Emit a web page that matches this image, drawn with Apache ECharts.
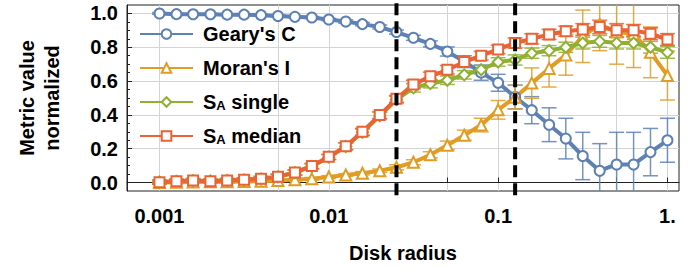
<!DOCTYPE html>
<html>
<head>
<meta charset="utf-8">
<script src="https://cdn.jsdelivr.net/npm/echarts@6/dist/echarts.min.js"></script>
<style>
  html, body { margin: 0; padding: 0; background: #fff; }
  #chart { width: 696px; height: 268px; }
</style>
</head>
<body>
<div id="chart"></div>
<script>
// disk radii (10 per decade, 0.001 .. 1)
var radius = [0.001, 0.00126, 0.00158, 0.002, 0.00251, 0.00316, 0.00398, 0.00501, 0.00631, 0.00794,
  0.01, 0.0126, 0.0158, 0.02, 0.0251, 0.0316, 0.0398, 0.0501, 0.0631, 0.0794,
  0.1, 0.126, 0.158, 0.2, 0.251, 0.316, 0.398, 0.501, 0.631, 0.794, 1];

var geary = [1.0, 0.996, 0.995, 0.995, 0.993, 0.993, 0.99, 0.985, 0.98, 0.976,
  0.964, 0.952, 0.937, 0.92, 0.89, 0.856, 0.82, 0.775, 0.715, 0.65,
  0.59, 0.506, 0.428, 0.342, 0.26, 0.157, 0.07, 0.107, 0.107, 0.18, 0.25];
var gearyErr = [0.005, 0.005, 0.005, 0.005, 0.005, 0.005, 0.005, 0.005, 0.005, 0.006,
  0.007, 0.01, 0.01, 0.012, 0.012, 0.015, 0.018, 0.027, 0.035, 0.045,
  0.05, 0.07, 0.08, 0.1, 0.12, 0.14, 0.16, 0.19, 0.19, 0.14, 0.13];

var moran = [0.0, 0.002, 0.003, 0.004, 0.005, 0.006, 0.008, 0.012, 0.016, 0.022,
  0.033, 0.045, 0.055, 0.07, 0.09, 0.12, 0.164, 0.22, 0.28, 0.34,
  0.43, 0.505, 0.588, 0.675, 0.755, 0.865, 0.935, 0.89, 0.88, 0.77, 0.633];
var moranErr = [0.005, 0.005, 0.005, 0.005, 0.005, 0.005, 0.005, 0.005, 0.006, 0.008,
  0.008, 0.008, 0.01, 0.01, 0.015, 0.015, 0.018, 0.025, 0.03, 0.04,
  0.055, 0.07, 0.09, 0.11, 0.12, 0.155, 0.155, 0.19, 0.2, 0.15, 0.145];

var saSingle = [0.003, 0.007, 0.011, 0.009, 0.012, 0.016, 0.021, 0.034, 0.058, 0.095,
  0.15, 0.213, 0.297, 0.395, 0.49, 0.56, 0.585, 0.605, 0.637, 0.667,
  0.713, 0.725, 0.765, 0.78, 0.8, 0.825, 0.835, 0.825, 0.825, 0.8, 0.77];
var saSingleErr = [0.012, 0.012, 0.012, 0.012, 0.012, 0.012, 0.015, 0.015, 0.015, 0.015,
  0.015, 0.02, 0.02, 0.02, 0.02, 0.025, 0.025, 0.025, 0.025, 0.025,
  0.025, 0.03, 0.03, 0.03, 0.03, 0.035, 0.035, 0.035, 0.035, 0.035, 0.035];

var saMedian = [0.002, 0.008, 0.012, 0.008, 0.012, 0.017, 0.022, 0.035, 0.06, 0.098,
  0.152, 0.215, 0.3, 0.4, 0.495, 0.58, 0.628, 0.667, 0.713, 0.75,
  0.787, 0.825, 0.85, 0.876, 0.895, 0.905, 0.92, 0.9, 0.9, 0.88, 0.846];
var saMedianErr = [0.012, 0.012, 0.012, 0.012, 0.012, 0.012, 0.015, 0.015, 0.015, 0.015,
  0.015, 0.02, 0.02, 0.02, 0.02, 0.025, 0.025, 0.025, 0.025, 0.025,
  0.025, 0.03, 0.03, 0.03, 0.03, 0.035, 0.04, 0.04, 0.035, 0.035, 0.035];

var xTicks = [0.001, 0.005, 0.01, 0.05, 0.1, 0.5, 1];
var xLabels = [0.001, 0.01, 0.1, 1];
var yLabels = [0, 0.2, 0.4, 0.6, 0.8, 1.0];
var yMinorTicks = [0, 0.05, 0.1, 0.15, 0.2, 0.25, 0.3, 0.35, 0.4, 0.45, 0.5,
  0.55, 0.6, 0.65, 0.7, 0.75, 0.8, 0.85, 0.9, 0.95, 1.0];
// the two dashed cut-off radii
var cutoffs = [0.0251, 0.126];

var FONT = '"Liberation Sans", Arial, sans-serif';
var colors = ['#5E81B5', '#E19C24', '#8FB032', '#EB6235'];
var names = ["Geary's C", "Moran's I", 'SA single', 'SA median'];

function errorSeries(name, values, errs, color) {
  return {
    name: name + ' err',
    type: 'custom',
    clip: true,
    z: 1,
    silent: true,
    data: radius.map(function (r, i) { return [r, values[i] - errs[i], values[i] + errs[i]]; }),
    renderItem: function (params, api) {
      var lo = api.coord([api.value(0), api.value(1)]);
      var hi = api.coord([api.value(0), api.value(2)]);
      var w = 7.5;
      var st = { stroke: color, lineWidth: 1.5, opacity: 0.85 };
      return {
        type: 'group',
        children: [
          { type: 'line', shape: { x1: lo[0], y1: lo[1], x2: hi[0], y2: hi[1] }, style: st },
          { type: 'line', shape: { x1: lo[0] - w, y1: lo[1], x2: lo[0] + w, y2: lo[1] }, style: st },
          { type: 'line', shape: { x1: hi[0] - w, y1: hi[1], x2: hi[0] + w, y2: hi[1] }, style: st }
        ]
      };
    }
  };
}

function lineSeries(name, values, color, symbol, size) {
  return {
    name: name,
    type: 'line',
    data: radius.map(function (r, i) { return [r, values[i]]; }),
    symbol: symbol,
    symbolSize: size,
    showAllSymbol: true,
    z: 2,
    lineStyle: { color: color, width: 4 },
    itemStyle: { color: color, borderColor: color, borderWidth: 2 }
  };
}

function cutoffSeries(c) {
  return {
    name: 'cutoff ' + c,
    type: 'line',
    data: [[c, -0.075], [c, 1.08]],
    symbol: 'none',
    clip: false,
    silent: true,
    z: 5,
    lineStyle: { color: '#000', width: 4, type: [12, 6] }
  };
}

var myChart = echarts.init(document.getElementById('chart'), null, { renderer: 'svg' });

myChart.setOption({
  animation: false,
  color: colors,
  grid: { left: 127, right: 17, top: 5, bottom: 77, show: true, borderColor: '#222', borderWidth: 1 },
  legend: {
    data: names,
    orient: 'vertical',
    left: 139,
    top: 24,
    padding: 0,
    itemWidth: 53,
    itemHeight: 12,
    itemGap: 14,
    formatter: function (name) {
      if (name === 'SA single') return '{m|S}{s|A}{m| single}';
      if (name === 'SA median') return '{m|S}{s|A}{m| median}';
      return '{m|' + name + '}';
    },
    textStyle: {
      color: '#000',
      padding: [0, 0, 0, 5],
      rich: {
        m: { fontFamily: FONT, fontSize: 20, fontWeight: 'bold', color: '#000', lineHeight: 20 },
        s: { fontFamily: FONT, fontSize: 13, fontWeight: 'bold', color: '#000', lineHeight: 11, verticalAlign: 'bottom' }
      }
    }
  },
  xAxis: {
    type: 'log',
    logBase: 10,
    min: 0.000643,
    max: 1.17,
    axisLine: { show: true, lineStyle: { color: '#222', width: 1 } },
    axisTick: { inside: true, length: 5, customValues: xTicks, lineStyle: { color: '#222' } },
    axisLabel: {
      customValues: xLabels,
      margin: 15,
      fontFamily: FONT,
      fontSize: 20,
      fontWeight: 'bold',
      color: '#000',
      formatter: function (v) { return v >= 0.999 ? '1.' : String(v); }
    },
    splitLine: { show: true, lineStyle: { color: '#d4d4d4', width: 1 } },
    minorTick: { show: false }
  },
  yAxis: [{
    type: 'value',
    min: -0.05,
    max: 1.05,
    axisLine: { show: true, lineStyle: { color: '#222', width: 1 } },
    axisTick: { inside: true, length: 5, customValues: yLabels, lineStyle: { color: '#222' } },
    axisLabel: {
      customValues: yLabels,
      margin: 9,
      fontFamily: FONT,
      fontSize: 20,
      fontWeight: 'bold',
      color: '#000',
      formatter: function (v) { return v.toFixed(1); }
    },
    splitLine: { show: true, lineStyle: { color: '#d4d4d4', width: 1 } }
  }, {
    type: 'value',
    min: -0.05,
    max: 1.05,
    position: 'left',
    axisLine: { show: false },
    axisTick: { inside: true, length: 3, customValues: yMinorTicks, lineStyle: { color: '#222' } },
    axisLabel: { show: false },
    splitLine: { show: false }
  }],
  graphic: [
    { type: 'text', x: 27, y: 98, rotation: Math.PI / 2,
      style: { text: 'Metric value', font: 'bold 20px ' + FONT, fill: '#000', textAlign: 'center', textVerticalAlign: 'middle' } },
    { type: 'text', x: 52, y: 98, rotation: Math.PI / 2,
      style: { text: 'normalized', font: 'bold 20px ' + FONT, fill: '#000', textAlign: 'center', textVerticalAlign: 'middle' } },
    { type: 'text', x: 403, y: 253,
      style: { text: 'Disk radius', font: 'bold 20px ' + FONT, fill: '#000', textAlign: 'center', textVerticalAlign: 'middle' } }
  ],
  series: [
    errorSeries(names[0], geary, gearyErr, colors[0]),
    errorSeries(names[1], moran, moranErr, colors[1]),
    errorSeries(names[2], saSingle, saSingleErr, colors[2]),
    errorSeries(names[3], saMedian, saMedianErr, colors[3]),
    lineSeries(names[0], geary, colors[0], 'emptyCircle', 10),
    lineSeries(names[1], moran, colors[1], 'emptyTriangle', 11),
    lineSeries(names[2], saSingle, colors[2], 'emptyDiamond', 11),
    lineSeries(names[3], saMedian, colors[3], 'emptyRect', 10),
    cutoffSeries(cutoffs[0]),
    cutoffSeries(cutoffs[1])
  ]
});
</script>
</body>
</html>
